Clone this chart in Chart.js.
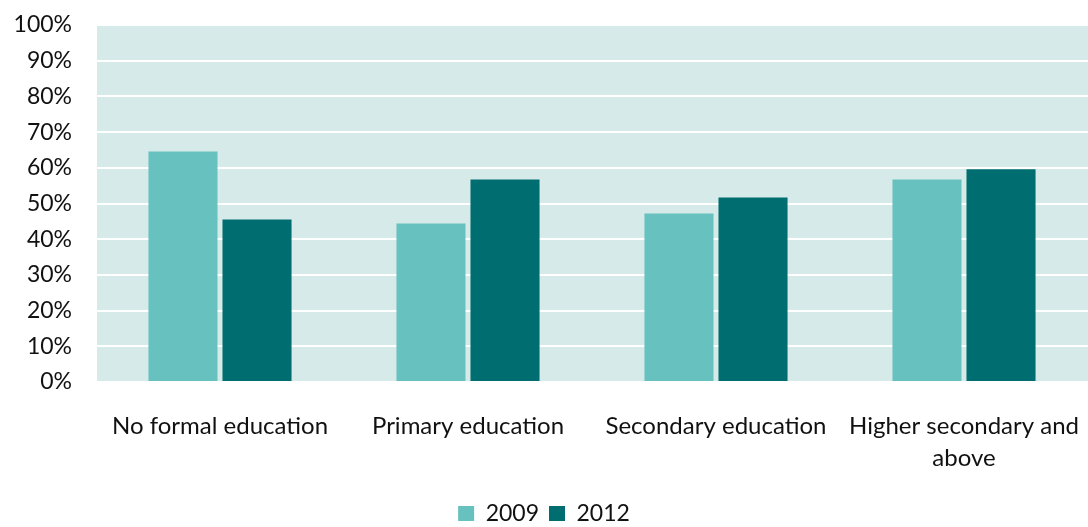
<!DOCTYPE html>
<html>
<head>
<meta charset="utf-8">
<script src="https://cdn.jsdelivr.net/npm/chart.js@4/dist/chart.umd.min.js"></script>
<style>
html,body{margin:0;padding:0;background:#fff;}
#wrap{width:1088px;height:527px;position:relative;}
</style>
</head>
<body>
<div id="wrap"><canvas id="c" width="1088" height="527"></canvas></div>
<script>
const categories = ["No formal education", "Primary education", "Secondary education", ["Higher secondary and", "above"]];
const series2009 = [64.6, 44.4, 47.2, 56.7];
const series2012 = [45.5, 56.7, 51.7, 59.6];
const yTicks = [0, 10, 20, 30, 40, 50, 60, 70, 80, 90, 100];

const bgPlugin = {
  id: 'plotBg',
  beforeDraw(chart) {
    const a = chart.chartArea, ctx = chart.ctx;
    ctx.save();
    ctx.fillStyle = '#d6ebe9';
    ctx.fillRect(a.left, a.top, a.right - a.left, a.bottom - a.top);
    ctx.restore();
  }
};

const FONT = 'Lato';
new Chart(document.getElementById('c'), {
  type: 'bar',
  data: {
    labels: categories,
    datasets: [
      { label: '2009', data: series2009, backgroundColor: '#67c2bf' },
      { label: '2012', data: series2012, backgroundColor: '#006e70' }
    ]
  },
  options: {
    responsive: false,
    animation: false,
    layout: { padding: { top: 25, right: 0, left: 0, bottom: -8 } },
    datasets: { bar: { categoryPercentage: 0.597, barPercentage: 0.933 } },
    scales: {
      x: {
        grid: { display: false, drawTicks: false },
        border: { display: false },
        ticks: { color: '#111', font: { family: FONT, size: 24, lineHeight: 1.35 }, padding: 28, maxRotation: 0, autoSkip: false },
        afterFit(s) { s.height = 110; s.paddingLeft = 0; s.paddingRight = 0; }
      },
      y: {
        min: 0, max: 100,
        afterBuildTicks(s) { s.ticks = yTicks.map(v => ({ value: v })); },
        grid: { color: '#ffffff', lineWidth: 2, drawTicks: false },
        border: { display: true, color: '#ffffff', width: 2 },
        ticks: { color: '#111', font: { family: FONT, size: 23 }, padding: 24, callback: v => v + '%' },
        afterFit(s) { s.width = 96; s.paddingTop = 0; s.paddingBottom = 0; }
      }
    },
    plugins: {
      legend: {
        position: 'bottom',
        labels: { color: '#111', font: { family: FONT, size: 23, lineHeight: 1 }, boxWidth: 16, boxHeight: 15, padding: 10 }
      },
      tooltip: { enabled: false }
    }
  },
  plugins: [bgPlugin]
});
</script>
</body>
</html>
